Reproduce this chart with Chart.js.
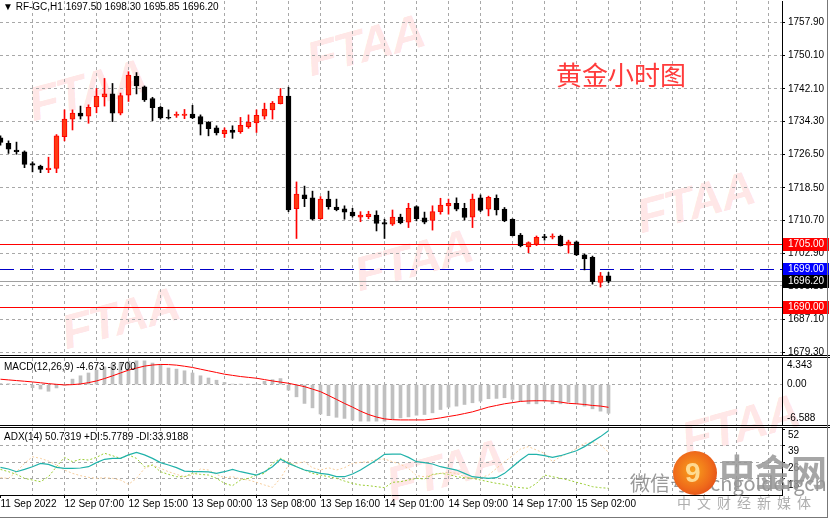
<!DOCTYPE html>
<html>
<head>
<meta charset="utf-8">
<script src="https://cdn.jsdelivr.net/npm/chart.js@4.4.1/dist/chart.umd.min.js"></script>
<style>
  body { margin: 0; background: #fff; width: 830px; height: 520px; overflow: hidden; position: relative; font-family: 'Liberation Sans', Arial, sans-serif; }
  canvas { position: absolute; left: 0; z-index: 1; }
  .wm { position: absolute; z-index: 0; font: bold 48px 'Liberation Sans', Arial, sans-serif; line-height: 1; color: rgba(255, 70, 70, 0.15); transform: rotate(-15deg) skewX(-12deg); white-space: nowrap; letter-spacing: -1px; }
  .lbl { position: absolute; z-index: 2; font-size: 10px; line-height: 13px; color: #000; white-space: nowrap; }
  .cn { position: absolute; z-index: 3; font-family: 'Noto Sans CJK SC', sans-serif; white-space: nowrap; line-height: 1; }
  .frame { position: absolute; left: 0; top: 0; width: 827px; height: 517px; border-right: 1px solid #777; border-bottom: 1px solid #777; z-index: 4; pointer-events: none; }
</style>
</head>
<body>
<div class="wm" style="left:28px;top:66px">FTAA</div>
<div class="wm" style="left:306px;top:21px">FTAA</div>
<div class="wm" style="left:636px;top:178px">FTAA</div>
<div class="wm" style="left:354px;top:236px">FTAA</div>
<div class="wm" style="left:61px;top:294px">FTAA</div>
<div class="wm" style="left:681px;top:401px">FTAA</div>
<div class="wm" style="left:386px;top:446px">FTAA</div>

<canvas id="mainChart" width="830" height="356" style="top:0"></canvas>
<canvas id="macdChart" width="830" height="71" style="top:356px"></canvas>
<canvas id="adxChart" width="830" height="93" style="top:427px"></canvas>

<div class="lbl" id="mainTitle" style="left:3px;top:0"></div>
<div class="lbl" id="macdTitle" style="left:4px;top:360px"></div>
<div class="lbl" style="left:4px;top:430px">ADX(14) 50.7319 +DI:5.7789 -DI:33.9188</div>

<div class="cn" style="left:556px;top:61px;font-size:26px;color:#ff3b3b;z-index:2">黄金小时图</div>

<div class="cn" style="left:630px;top:473px;font-size:20px;color:rgba(120,120,120,0.75)">微信号：cngoldorgcn</div>
<div style="position:absolute;z-index:3;left:673px;top:451px;width:44px;height:44px;border-radius:50%;background:radial-gradient(circle at 45% 45%, #f8a11c 0%, #ef6a1a 55%, #d8361b 100%);"></div>
<div class="cn" style="left:685px;top:457px;font:bold 28px 'Liberation Sans';color:rgba(255,226,160,0.9);z-index:3">9</div>
<div class="cn" style="left:719px;top:452px;font-size:36px;font-weight:bold;color:rgba(150,150,150,0.85)">中金网</div>
<div class="cn" style="left:677px;top:495px;font-size:14px;letter-spacing:6px;color:rgba(160,160,160,0.85)">中文财经新媒体</div>
<div class="frame"></div>

<script>
// candles, hourly (RF-GC,H1)
var candleOpen = [1730.4,1729.1,1727.5,1727.1,1724.3,1723.7,1722.8,1723.1,1730.7,1734.9,
  1736.3,1735.6,1737.8,1740.2,1740.9,1736.3,1740.6,1745.1,1742.6,1739.8,
  1737.7,1735.3,1735.8,1735.8,1736.1,1735.5,1734.2,1732.8,1731.4,1732.3,
  1731.9,1733.1,1734.0,1735.6,1737.1,1738.6,1740.4,1713.5,1716.8,1716.1,
  1711.1,1715.8,1713.9,1713.5,1712.7,1711.5,1711.6,1712.0,1710.2,1709.8,
  1711.5,1710.3,1714.0,1711.3,1710.7,1712.8,1714.2,1714.8,1713.6,1711.5,
  1716.1,1713.4,1716.0,1713.4,1711.0,1707.2,1704.4,1705.0,1706.8,1706.7,
  1707.0,1704.8,1705.6,1702.5,1701.9,1695.9,1697.5];
var candleHigh = [1730.9,1729.7,1729.4,1727.3,1724.7,1723.9,1725.8,1731.2,1737.1,1737.1,
  1738.0,1738.3,1742.2,1744.6,1743.4,1741.1,1746.2,1746.0,1742.8,1740.1,
  1737.9,1737.1,1736.6,1737.2,1738.2,1735.9,1734.3,1733.3,1732.8,1733.3,
  1735.3,1735.9,1737.1,1738.7,1739.1,1742.2,1742.5,1719.9,1718.9,1717.7,
  1716.4,1717.7,1715.8,1714.2,1713.6,1712.8,1712.9,1713.0,1711.0,1713.2,
  1712.2,1714.8,1714.2,1712.7,1714.2,1716.0,1715.8,1716.1,1714.8,1717.0,
  1716.8,1716.5,1716.8,1713.8,1711.1,1707.6,1705.6,1707.0,1707.4,1707.5,
  1707.2,1706.0,1705.8,1702.7,1702.2,1698.3,1698.3];
var candleLow = [1728.7,1726.7,1726.5,1723.3,1722.3,1722.1,1722.1,1722.1,1729.7,1732.3,
  1734.9,1733.9,1736.4,1738.0,1734.3,1735.9,1739.1,1740.9,1739.1,1734.5,
  1734.9,1734.9,1735.3,1735.0,1735.0,1731.1,1730.9,1731.1,1730.5,1730.3,
  1731.5,1732.7,1731.7,1734.9,1734.9,1738.5,1712.8,1706.4,1714.0,1710.8,
  1711.0,1713.4,1713.0,1711.0,1711.5,1710.4,1711.1,1708.2,1706.4,1709.5,
  1709.9,1709.0,1710.6,1709.9,1708.4,1712.2,1712.2,1713.0,1710.8,1709.0,
  1712.8,1711.8,1712.0,1710.4,1707.0,1704.4,1703.0,1704.7,1706.0,1706.3,
  1704.6,1702.9,1702.3,1698.9,1695.5,1694.8,1695.85];
var candleClose = [1729.3,1727.7,1727.1,1724.1,1723.9,1722.9,1723.2,1730.9,1734.9,1736.3,
  1735.6,1737.7,1740.4,1740.9,1736.3,1740.5,1745.4,1742.8,1739.5,1737.6,
  1735.2,1735.1,1736.0,1736.1,1735.2,1733.7,1732.6,1731.6,1732.3,1731.7,
  1733.4,1734.2,1735.8,1737.3,1738.7,1740.4,1713.2,1717.0,1715.9,1711.0,
  1715.8,1714.0,1713.3,1712.7,1711.8,1712.0,1712.2,1710.0,1709.8,1711.5,
  1710.2,1713.6,1711.1,1710.3,1712.8,1714.4,1714.8,1713.4,1711.4,1715.8,
  1713.1,1716.2,1713.2,1710.6,1707.1,1704.7,1705.4,1706.7,1706.6,1707.0,
  1704.7,1705.6,1702.5,1701.5,1696.1,1697.5,1696.2];

// MACD(12,26,9): histogram and signal
var macdMain = [0.18,0.14,0.05,0.02,-0.5,-0.72,-1.08,-0.54,-0.09,0.9,
  1.44,1.9,2.35,2.89,3.34,3.61,3.79,3.88,3.88,3.52,
  3.25,2.71,2.53,2.26,1.9,1.44,1.08,0.72,0.36,0.09,
  0.05,0.05,0.09,0.54,0.81,0.99,-0.9,-1.99,-3.07,-3.79,
  -4.79,-5.06,-5.33,-5.51,-5.78,-5.96,-5.96,-5.96,-5.96,-5.6,
  -5.43,-5.26,-4.99,-4.88,-4.6,-4.06,-3.67,-3.51,-3.24,-2.96,
  -2.69,-2.3,-2.25,-2.14,-2.41,-2.69,-3.13,-3.13,-2.69,-3.13,
  -3.13,-2.85,-3.13,-3.51,-3.95,-4.33,-4.673];
var macdSignal = [0.88,0.77,0.66,0.55,0.44,0.3,0.16,0.05,-0.05,0.0,
  0.11,0.32,0.6,0.99,1.43,1.9,2.36,2.7,3.02,3.2,
  3.29,3.27,3.18,3.0,2.8,2.52,2.25,1.98,1.7,1.51,
  1.32,1.18,1.04,0.82,0.6,0.41,0.22,-0.05,-0.33,-0.73,
  -1.15,-1.77,-2.41,-3.07,-3.67,-4.33,-4.88,-5.29,-5.59,-5.72,
  -5.76,-5.76,-5.76,-5.76,-5.62,-5.43,-5.2,-4.99,-4.72,-4.44,
  -4.06,-3.67,-3.4,-3.13,-2.94,-2.74,-2.66,-2.63,-2.63,-2.69,
  -2.85,-3.05,-3.13,-3.24,-3.4,-3.5,-3.7];

// ADX(14)
var adxMain = [22.1,20.8,18.7,20.5,22.6,25.2,24.4,22.1,21.3,21.3,
  21.6,22.6,25.8,28.4,29.1,29.1,31.8,33.8,31.8,29.1,
  25.8,23.9,21.9,19.2,18.7,18.7,18.5,17.4,18.7,20.5,
  18.7,17.4,16.1,18.7,22.6,28.4,25.2,22.6,20.0,18.7,
  17.4,16.6,14.8,14.8,16.9,20.0,23.9,27.8,32.3,32.5,
  32.5,29.9,26.5,25.8,24.7,22.6,21.3,20.0,17.4,14.8,
  14.0,13.5,14.0,17.4,22.6,27.8,32.3,32.3,31.2,29.9,
  31.2,33.1,35.1,38.3,42.2,46.1,50.73];
var plusDI = [20.5,18.7,16.6,13.5,12.2,10.9,14.8,22.6,29.9,26.5,
  28.4,27.8,29.9,33.1,31.2,29.1,31.8,29.1,22.6,23.9,
  18.7,16.6,14.8,14.8,17.4,16.6,16.1,13.5,9.6,7.8,
  12.2,13.5,16.1,17.4,25.2,29.1,26.0,22.6,20.0,17.4,
  16.1,14.8,13.5,11.4,9.6,8.3,7.8,7.0,6.2,10.4,
  10.9,12.2,13.5,13.0,16.6,17.4,16.6,14.8,14.0,13.5,
  12.2,10.9,9.6,8.8,7.0,6.2,5.7,9.6,16.1,14.8,
  13.5,12.2,10.4,8.8,7.0,6.2,5.78];
var minusDI = [14.0,13.5,18.7,25.2,30.4,29.1,27.0,23.9,20.0,17.4,
  15.6,14.3,13.5,14.0,13.5,12.2,8.8,13.5,21.3,23.9,
  21.3,18.7,16.6,14.8,16.1,20.8,20.0,16.6,14.0,14.8,
  13.0,12.2,10.4,8.3,6.5,13.5,23.9,25.2,26.5,21.8,
  20.0,21.8,20.0,21.8,25.2,26.0,26.5,28.4,28.6,26.5,
  24.4,21.3,15.6,14.8,16.1,17.4,18.2,17.4,14.8,13.5,
  14.0,16.1,21.3,26.5,31.2,36.4,38.3,35.6,33.1,26.5,
  30.4,33.1,37.0,40.9,41.6,39.6,33.92];

// axis labels
var timeLabels = ['11 Sep 2022','12 Sep 07:00','12 Sep 15:00','13 Sep 00:00','13 Sep 08:00',
  '13 Sep 16:00','14 Sep 01:00','14 Sep 09:00','14 Sep 17:00','15 Sep 02:00'];
var priceTicks = [1757.9,1750.1,1742.1,1734.3,1726.5,1718.5,1710.7,1702.9,1695.1,1687.1,1679.3];
var macdTicks = [4.343, 0, -6.588];
var adxTicks = [52, 39, 26, 13];

// horizontal levels drawn on the price chart
var levelValues = [1705.00, 1699.00, 1696.20, 1690.00];
var levelLine = ['#ff0000', '#0000c8', '#a0a0a0', '#ff0000'];
var levelDash = [[], [14, 6], [], []];
var levelBox = ['#ff0000', '#0000ff', '#000000', '#ff0000'];

Chart.defaults.font.family = "'Liberation Sans', Arial, sans-serif";
Chart.defaults.font.size = 10;
Chart.defaults.color = '#000';
Chart.defaults.animation = false;
Chart.defaults.plugins.legend.display = false;
Chart.defaults.plugins.tooltip.enabled = false;

var gridGrey = '#a8a8a8';
var X_MIN = -0.0625, X_MAX = 97.6875;
var xGridTicks = [];
for (var v = 0; v <= 96; v += 4) xGridTicks.push(v);

var idx = candleOpen.map(function (_, i) { return i; });
var isUp = idx.map(function (i) { return candleClose[i] >= candleOpen[i]; });
var last = candleOpen.length - 1;

document.getElementById('mainTitle').textContent = '\u25BC  RF-GC,H1  ' +
  [candleOpen[last], candleHigh[last], candleLow[last], candleClose[last]].map(function (v) { return v.toFixed(2); }).join(' ');
document.getElementById('macdTitle').textContent = 'MACD(12,26,9) ' + macdMain[last].toFixed(3) + ' ' + macdSignal[last].toFixed(3);

// no extra room around the axes, so the plot fills the panel
function noPad(s) { s.paddingTop = 0; s.paddingBottom = 0; s.paddingLeft = 0; s.paddingRight = 0; }

function xScale(showLabels) {
  return {
    type: 'linear', min: X_MIN, max: X_MAX, offset: false, bounds: 'data',
    afterBuildTicks: function (s) { s.ticks = xGridTicks.map(function (v) { return { value: v }; }); },
    afterFit: function (s) { s.height = showLabels ? 25 : 0; noPad(s); },
    grid: {
      offset: false,
      color: function (c) { return c.tick && c.tick.value === 0 ? 'rgba(0,0,0,0)' : gridGrey; },
      drawTicks: showLabels, tickLength: 3, tickBorderDash: [],
      tickColor: function (c) {
        return (c.tick && c.tick.value % 8 === 0 && timeLabels[c.tick.value / 8]) ? '#000' : 'rgba(0,0,0,0)';
      }
    },
    border: { display: showLabels, color: '#000', dash: [3, 3] },
    ticks: {
      display: showLabels, autoSkip: false, maxRotation: 0, minRotation: 0, align: 'start', padding: 0,
      callback: function (v) { return (v % 8 === 0 && timeLabels[v / 8]) || ''; }
    }
  };
}

var panelFrame = {
  id: 'panelFrame',
  afterDraw: function (chart, args, opts) {
    var ctx = chart.ctx, a = chart.chartArea;
    ctx.save();
    ctx.strokeStyle = '#000';
    ctx.lineWidth = 1;
    var ys = [];
    if (opts.top) ys.push(Math.round(a.top) - 0.5);
    if (opts.bottom) ys.push(Math.round(a.bottom) + 0.5);
    ys.forEach(function (y) { ctx.beginPath(); ctx.moveTo(0, y); ctx.lineTo(chart.width, y); ctx.stroke(); });
    ctx.restore();
  }
};

var levelPlugin = {
  id: 'levels',
  beforeDatasetsDraw: function (chart) {
    var ctx = chart.ctx, a = chart.chartArea, y = chart.scales.y;
    levelValues.forEach(function (v, k) {
      var py = Math.round(y.getPixelForValue(v)) + 0.5;
      ctx.save();
      ctx.strokeStyle = levelLine[k];
      ctx.lineWidth = 1;
      ctx.setLineDash(levelDash[k]);
      ctx.beginPath(); ctx.moveTo(a.left, py); ctx.lineTo(a.right, py); ctx.stroke();
      ctx.restore();
    });
  },
  afterDraw: function (chart) {
    var ctx = chart.ctx, a = chart.chartArea, y = chart.scales.y;
    ctx.save();
    ctx.font = "10px 'Liberation Sans', Arial, sans-serif";
    ctx.textBaseline = 'middle';
    levelValues.forEach(function (v, k) {
      var py = Math.round(y.getPixelForValue(v));
      ctx.fillStyle = levelBox[k];
      ctx.fillRect(a.right + 1, py - 6, chart.width - a.right - 2, 13);
      ctx.fillStyle = '#fff';
      ctx.fillText(v.toFixed(2), a.right + 6, py + 0.5);
    });
    ctx.restore();
  }
};

var macdLabels = {
  id: 'macdLabels',
  afterDraw: function (chart) {
    var ctx = chart.ctx, a = chart.chartArea, s = chart.scales.y;
    ctx.save();
    ctx.font = "10px 'Liberation Sans', Arial, sans-serif";
    ctx.textBaseline = 'middle';
    ctx.fillStyle = '#000';
    macdTicks.forEach(function (v) {
      var py = Math.min(Math.max(s.getPixelForValue(v), a.top + 7), a.bottom - 7);
      ctx.fillText(v === 0 ? '0.00' : v.toFixed(3), a.right + 5, py);
    });
    ctx.restore();
  }
};

// price panel
new Chart(document.getElementById('mainChart'), {
  type: 'bar',
  data: {
    datasets: [{
      label: 'body',
      data: idx.map(function (i) { return { x: i, y: [candleOpen[i], candleClose[i]] }; }),
      backgroundColor: idx.map(function (i) { return isUp[i] ? '#ff3a14' : '#000'; }),
      borderColor: idx.map(function (i) { return isUp[i] ? '#ff0000' : '#000'; }),
      borderWidth: 1,
      borderSkipped: false,
      grouped: false,
      barThickness: 5,
      maxBarThickness: 5,
      minBarLength: 1
    }, {
      label: 'wick',
      data: idx.map(function (i) { return { x: i, y: [candleLow[i], candleHigh[i]] }; }),
      backgroundColor: idx.map(function (i) { return isUp[i] ? '#ff0000' : '#000'; }),
      borderWidth: 0,
      grouped: false,
      barThickness: 1,
      maxBarThickness: 1
    }]
  },
  options: {
    responsive: false,
    devicePixelRatio: 1,
    events: [],
    layout: { padding: { top: 1, bottom: 1, left: 0, right: 0 } },
    scales: {
      x: xScale(false),
      y: {
        position: 'right', min: 1678.59, max: 1763.08, bounds: 'data',
        afterBuildTicks: function (s) { s.ticks = priceTicks.map(function (v) { return { value: v }; }); },
        afterFit: function (s) { s.width = 48; noPad(s); },
        grid: { color: gridGrey, tickLength: 3, tickColor: '#000', tickBorderDash: [] },
        border: { color: '#000', dash: [3, 3] },
        ticks: { padding: 3, callback: function (v) { return v.toFixed(2); } }
      }
    },
    plugins: { panelFrame: { bottom: true } }
  },
  plugins: [levelPlugin, panelFrame]
});

// MACD panel
new Chart(document.getElementById('macdChart'), {
  type: 'bar',
  data: {
    datasets: [{
      type: 'line',
      label: 'signal',
      data: idx.map(function (i) { return { x: i, y: macdSignal[i] }; }),
      borderColor: '#ff0000',
      borderWidth: 1,
      pointRadius: 0,
      tension: 0
    }, {
      label: 'macd',
      data: idx.map(function (i) { return { x: i, y: macdMain[i] }; }),
      backgroundColor: '#c0c0c0',
      grouped: false,
      barThickness: 3,
      maxBarThickness: 3
    }]
  },
  options: {
    responsive: false,
    devicePixelRatio: 1,
    events: [],
    layout: { padding: { top: 2, bottom: 2, left: 0, right: 0 } },
    scales: {
      x: xScale(false),
      y: {
        position: 'right', min: -6.588, max: 4.343, bounds: 'data',
        afterBuildTicks: function (s) { s.ticks = [{ value: 0 }]; },
        afterFit: function (s) { s.width = 48; noPad(s); },
        grid: { color: gridGrey, drawTicks: false },
        border: { color: '#000', dash: [3, 3] },
        ticks: { display: false }
      }
    },
    plugins: { panelFrame: { top: true, bottom: true } }
  },
  plugins: [panelFrame, macdLabels]
});

// ADX panel
new Chart(document.getElementById('adxChart'), {
  type: 'line',
  data: {
    datasets: [{
      label: 'ADX',
      data: idx.map(function (i) { return { x: i, y: adxMain[i] }; }),
      borderColor: '#20b2aa',
      borderWidth: 1.2,
      pointRadius: 0
    }, {
      label: '+DI',
      data: idx.map(function (i) { return { x: i, y: plusDI[i] }; }),
      borderColor: '#9acd32',
      borderWidth: 1,
      borderDash: [2, 2],
      pointRadius: 0
    }, {
      label: '-DI',
      data: idx.map(function (i) { return { x: i, y: minusDI[i] }; }),
      borderColor: '#f6cd9c',
      borderWidth: 1,
      borderDash: [2, 2],
      pointRadius: 0
    }]
  },
  options: {
    responsive: false,
    devicePixelRatio: 1,
    events: [],
    layout: { padding: { top: 1, bottom: 0, left: 0, right: 0 } },
    scales: {
      x: xScale(true),
      y: {
        position: 'right', min: 0.5, max: 52.84, bounds: 'data',
        afterBuildTicks: function (s) { s.ticks = adxTicks.map(function (v) { return { value: v }; }); },
        afterFit: function (s) { s.width = 48; noPad(s); },
        grid: {
          color: function (c) { return c.tick && c.tick.value === adxTicks[0] ? 'rgba(0,0,0,0)' : gridGrey; },
          tickLength: 3, tickColor: '#000', tickBorderDash: []
        },
        border: { color: '#000', dash: [3, 3] },
        ticks: { padding: 3, labelOffset: 6, callback: function (v) { return String(v); } }
      }
    },
    plugins: { panelFrame: { top: true } }
  },
  plugins: [panelFrame]
});
</script>
</body>
</html>
